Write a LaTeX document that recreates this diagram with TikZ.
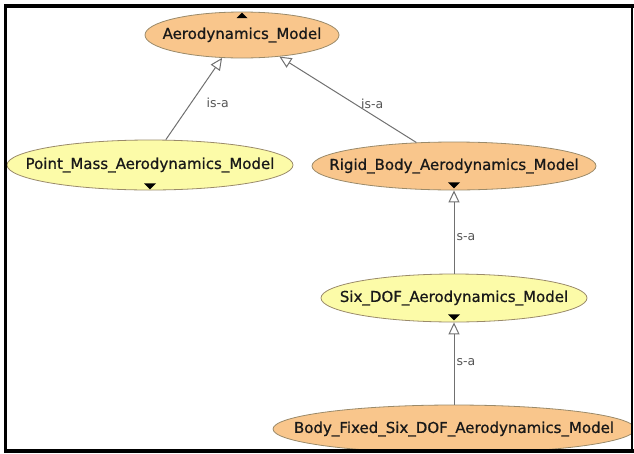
\documentclass[tikz,border=0pt]{standalone}
\usepackage{fontspec}
\setmainfont{DejaVu Sans}
\newfontfamily\conceptfont[BoldFont={DejaVu Sans},BoldFeatures={FakeBold=0.8}]{DejaVu Sans}
\usetikzlibrary{shapes.geometric,arrows.meta,calc}
\definecolor{orangefill}{HTML}{F9C68C}
\definecolor{yellowfill}{HTML}{FCFBA8}
\definecolor{nodeline}{HTML}{9A8A6A}
\definecolor{edgecol}{HTML}{707070}
\definecolor{labcol}{HTML}{555555}
\tikzset{
  concept/.style={ellipse, draw=nodeline, line width=0.8pt, inner sep=0pt},
  orangeconcept/.style={concept, fill=orangefill},
  yellowconcept/.style={concept, fill=yellowfill},
  concepttext/.style={inner sep=0pt, font=\conceptfont\bfseries\fontsize{15}{17}\selectfont, text=black!90},
  isa/.style={draw=edgecol, line width=1pt,
    -{Triangle[open, length=12pt, width=11pt, fill=white]}},
  isalabel/.style={font=\fontsize{12.5}{14}\selectfont, text=labcol, inner sep=0pt},
  marker/.style={fill=black}
}
\begin{document}
\begin{tikzpicture}[x=1pt,y=-1pt]
\useasboundingbox (0,0) rectangle (634,453);
\begin{scope}
\clip (5.5,6) rectangle (632,451);
\node[orangeconcept, minimum width=194pt, minimum height=46pt] (aero) at (242,35) {};
\node[concepttext] (aerot) at (aero.center) {Aerodynamics\_Model};
\node[yellowconcept, minimum width=286pt, minimum height=50pt] (pm) at (150,165) {};
\node[concepttext] (pmt) at (pm.center) {Point\_Mass\_Aerodynamics\_Model};
\node[orangeconcept, minimum width=284pt, minimum height=48pt] (rb) at (454,166) {};
\node[concepttext] (rbt) at (rb.center) {Rigid\_Body\_Aerodynamics\_Model};
\node[yellowconcept, minimum width=266pt, minimum height=48pt] (six) at (454,298) {};
\node[concepttext] (sixt) at (six.center) {Six\_DOF\_Aerodynamics\_Model};
\node[orangeconcept, minimum width=362pt, minimum height=48pt] (bf) at (454,429) {};
\node[concepttext] (bft) at (bf.center) {Body\_Fixed\_Six\_DOF\_Aerodynamics\_Model};

\draw[isa] (pm.58) -- node[isalabel, pos=0.45, anchor=west, xshift=15pt] {is-a} (aero.229);
\draw[isa] (rb.148) -- node[isalabel, pos=0.45, anchor=west, xshift=6pt] {is-a} (aero.330);
\draw[isa] (six.north) -- node[isalabel, pos=0.44, anchor=west, xshift=2pt] {s-a} (rb.south);
\draw[isa] (bf.north) -- node[isalabel, pos=0.52, anchor=west, xshift=2pt] {s-a} (six.south);

\fill[marker] ($(aero.north)+(0,1)$) -- ++(5.5,5.5) -- ++(-11,0) -- cycle;
\fill[marker] ($(pm.south)+(0,-1)$) -- ++(6,-6) -- ++(-12,0) -- cycle;
\fill[marker] ($(rb.south)+(0,-2)$) -- ++(6,-6) -- ++(-12,0) -- cycle;
\fill[marker] ($(six.south)+(0,-2)$) -- ++(6,-6) -- ++(-12,0) -- cycle;
\end{scope}
\draw[line width=3pt] (5.5,451) -- (5.5,6);
\draw[line width=4pt] (4,6) -- (634,6);
\draw[line width=3.4pt] (4,451) -- (634,451);
\draw[line width=2pt] (632,4) -- (632,453);
\end{tikzpicture}
\end{document}
